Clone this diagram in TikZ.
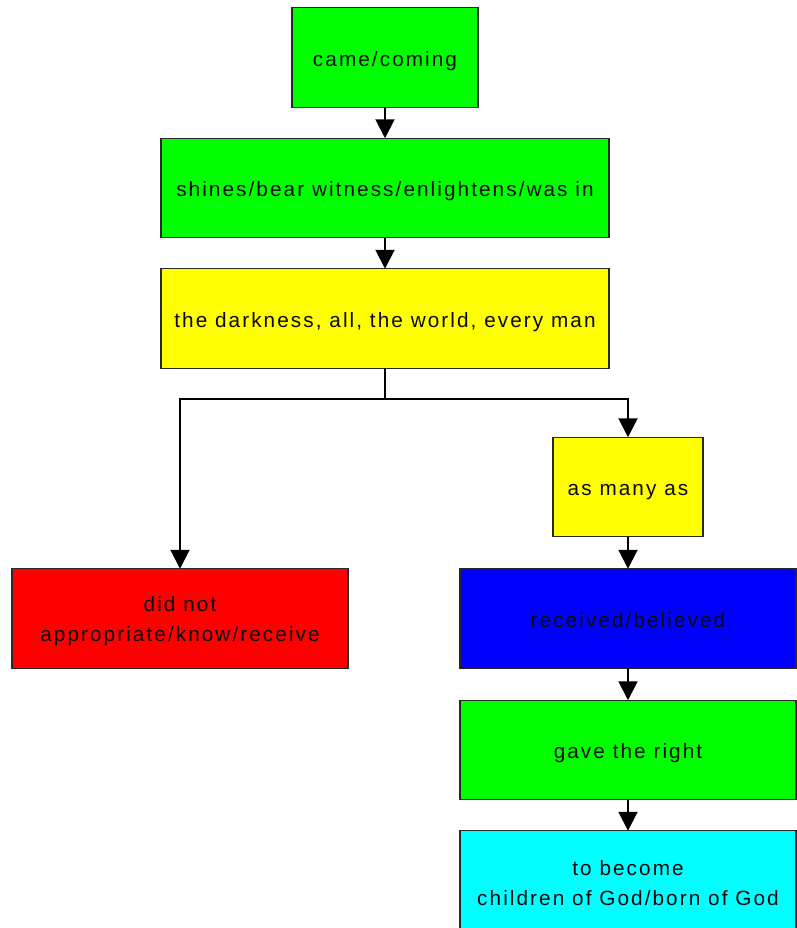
\documentclass[tikz,border=0pt]{standalone}
\usepackage{fontspec}
\usepackage{xcolor}
\usetikzlibrary{arrows.meta, positioning, calc}
\newfontfamily\boxfont[LetterSpace=10]{Liberation Sans}
\definecolor{boxGreen}{RGB}{0, 255, 0}
\definecolor{boxYellow}{RGB}{255, 255, 0}
\definecolor{boxRed}{RGB}{255, 0, 0}
\definecolor{boxBlue}{RGB}{0, 0, 255}
\definecolor{boxCyan}{RGB}{0, 255, 255}
\definecolor{borderColor}{RGB}{40, 40, 40}
\definecolor{textColor}{RGB}{10, 10, 10}
\newcommand{\topstrut}{\rule{0pt}{0.4cm}}

\begin{document}
\begin{tikzpicture}

% Style definitions
\tikzset{
    stage/.style={
        rectangle, draw=borderColor, line width=0.6pt, inner sep=0pt, outer sep=0pt,
        minimum height=1.99cm, align=center, text=textColor,
        font=\boxfont\fontsize{11.8}{17}\selectfont
    },
    oneline/.style={text height=0.4cm, text depth=0.06cm},
    wide/.style={stage, oneline, minimum width=8.96cm},
    half/.style={stage, minimum width=6.72cm},
    wire/.style={draw=black, line width=1.15pt},
    arrowwire/.style={wire, -{Triangle[length=0.38cm, width=0.38cm]}}
}

% Page frame
\useasboundingbox (0,0) rectangle (15.94,-18.56);

% Main column
\node (came) [stage, oneline, fill=boxGreen, minimum width=3.72cm] at (7.7,-1.15) {came/coming};
\node (shines) [wide, fill=boxGreen, below=0.62cm of came] {shines/bear witness/enlightens/was in};
\node (dark) [wide, fill=boxYellow, below=0.62cm of shines] {the darkness, all, the world, every man};

% Right branch
\node (many) [stage, oneline, fill=boxYellow, minimum width=3cm, below=1.38cm of dark, xshift=4.86cm] {as many as};
\node (received) [half, oneline, fill=boxBlue, below=0.64cm of many] {received/believed};
\node (gave) [half, oneline, fill=boxGreen, below=0.64cm of received] {gave the right};
\node (become) [half, fill=boxCyan, below=0.62cm of gave] {\topstrut to become\\children of God/born of God};

% Left branch
\node (rejected) [half, fill=boxRed, left=2.24cm of received] {\topstrut did not\\appropriate/know/receive};

% Connections
\draw [arrowwire] (came) -- (shines);
\draw [arrowwire] (shines) -- (dark);

\coordinate (split) at ($(dark.south) + (0,-0.62)$);
\draw [wire] (dark.south) -- (split);
\draw [arrowwire] (split) -| (rejected.north);
\draw [arrowwire] (split) -| (many.north);

\draw [arrowwire] (many) -- (received);
\draw [arrowwire] (received) -- (gave);
\draw [arrowwire] (gave) -- (become);

\end{tikzpicture}
\end{document}
